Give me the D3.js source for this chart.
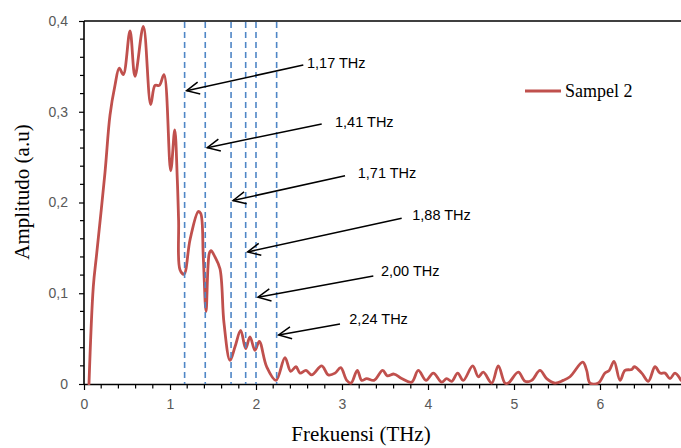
<!DOCTYPE html>
<html>
<head>
<meta charset="utf-8">
<script src="https://cdn.jsdelivr.net/npm/d3@7"></script>
<style>
  html, body { margin: 0; padding: 0; background: #fff; }
  svg { display: block; }
</style>
</head>
<body>
<svg id="chart" width="681" height="448"></svg>
<script>
// Spectrum of "Sampel 2": frequency (THz) and amplitude (a.u)
const freq = [
  0.058, 0.108, 0.148, 0.244, 0.302, 0.360, 0.410, 0.457, 0.535, 0.593,
  0.690, 0.776, 0.826, 0.876, 0.930, 1.008, 1.055, 1.085, 1.100, 1.116,
  1.163, 1.233, 1.329, 1.357, 1.387, 1.419, 1.457, 1.477, 1.523, 1.581,
  1.628, 1.698, 1.756, 1.822, 1.880, 1.930, 1.988, 2.038, 2.124, 2.233,
  2.337, 2.403, 2.465, 2.512, 2.581, 2.648, 2.764, 2.841, 2.919, 2.985,
  3.055, 3.105, 3.178, 3.229, 3.287, 3.372, 3.473, 3.527, 3.605, 3.694,
  3.810, 3.887, 3.977, 4.062, 4.159, 4.217, 4.276, 4.345, 4.410, 4.520,
  4.585, 4.643, 4.741, 4.817, 4.895, 4.934, 5.050, 5.128, 5.206, 5.302,
  5.380, 5.477, 5.573, 5.651, 5.799, 5.845, 5.884, 5.980, 6.058, 6.108,
  6.163, 6.233, 6.291, 6.369, 6.399, 6.485, 6.562, 6.640, 6.698, 6.756,
  6.814, 6.872, 6.942
];
const amplitude = [
  0.000, 0.107, 0.144, 0.233, 0.296, 0.329, 0.348, 0.341, 0.389, 0.339,
  0.394, 0.308, 0.329, 0.329, 0.341, 0.235, 0.280, 0.225, 0.180, 0.126,
  0.121, 0.159, 0.190, 0.188, 0.140, 0.080, 0.144, 0.147, 0.140, 0.127,
  0.067, 0.026, 0.041, 0.059, 0.039, 0.052, 0.037, 0.047, 0.019, 0.004,
  0.029, 0.014, 0.019, 0.012, 0.015, 0.010, 0.020, 0.010, 0.012, 0.018,
  0.004, 0.001, 0.015, 0.004, 0.006, 0.004, 0.015, 0.009, 0.011, 0.006,
  0.002, 0.015, 0.004, 0.012, 0.002, 0.006, 0.003, 0.012, 0.004, 0.020,
  0.008, 0.013, 0.001, 0.020, 0.001, 0.001, 0.013, 0.003, 0.004, 0.015,
  0.006, 0.001, 0.004, 0.008, 0.024, 0.015, 0.001, 0.001, 0.012, 0.015,
  0.025, 0.004, 0.015, 0.016, 0.019, 0.012, 0.003, 0.019, 0.012, 0.012,
  0.006, 0.012, 0.004
];

// Marked resonance frequencies (dashed guides) and their labels
const markerFreq = [1.17, 1.41, 1.71, 1.88, 2.00, 2.24];
const markerLabels = ["1,17 THz", "1,41 THz", "1,71 THz", "1,88 THz", "2,00 THz", "2,24 THz"];
// Arrow geometry in data units: tip amplitude, tail point, label anchor
const arrowTipAmp  = [0.3232, 0.2604, 0.2022, 0.1455, 0.0956, 0.0540];
const arrowTailFreq = [2.550, 2.764, 3.035, 3.694, 3.364, 2.977];
const arrowTailAmp  = [0.3515, 0.2865, 0.2295, 0.1826, 0.1190, 0.0661];
const labelFreq = [2.593, 2.919, 3.183, 3.817, 3.453, 3.085];
const labelAmp  = [0.3540, 0.2890, 0.2325, 0.1865, 0.1240, 0.0715];

const xMajorTicks = [0, 1, 2, 3, 4, 5, 6];
const yMajorTicks = [0, 0.1, 0.2, 0.3, 0.4];
const seriesName = "Sampel 2";

const svg = d3.select("#chart");
const plotLeft = 84, plotRight = 686, plotTop = 21, plotBottom = 384;

const x = d3.scaleLinear().domain([0, 7]).range([plotLeft, plotRight]);
const y = d3.scaleLinear().domain([0, 0.4]).range([plotBottom, plotTop]);
const fmt = v => String(v).replace(".", ",");

// Plot frame: top border line
svg.append("line")
  .attr("x1", plotLeft).attr("x2", 681).attr("y1", plotTop).attr("y2", plotTop)
  .attr("stroke", "#000").attr("stroke-width", 1.5);

// Minor ticks
const xMinor = d3.range(0, 7.0001, 0.2).filter(v => Math.abs(v - Math.round(v)) > 1e-6);
svg.append("g").selectAll("line").data(xMinor).join("line")
  .attr("x1", d => x(d)).attr("x2", d => x(d))
  .attr("y1", plotBottom).attr("y2", plotBottom + 4.5)
  .attr("stroke", "#000").attr("stroke-width", 1.2);
const yMinor = d3.range(0, 0.4001, 0.02).filter(v => Math.abs(v * 10 - Math.round(v * 10)) > 1e-6);
svg.append("g").selectAll("line").data(yMinor).join("line")
  .attr("x1", plotLeft - 4).attr("x2", plotLeft)
  .attr("y1", d => y(d)).attr("y2", d => y(d))
  .attr("stroke", "#000").attr("stroke-width", 1.2);

// Axes
const xAxis = d3.axisBottom(x).tickValues(xMajorTicks).tickFormat(fmt).tickSize(6).tickPadding(9);
const gx = svg.append("g").attr("transform", `translate(0,${plotBottom})`).call(xAxis);
gx.select(".domain").attr("stroke", "#000").attr("stroke-width", 1.6).attr("d", `M${plotLeft},0.5H681`);
gx.selectAll(".tick line").attr("stroke", "#000").attr("stroke-width", 1.2);
gx.selectAll(".tick text").attr("fill", "#595959")
  .style("font-family", "'Liberation Sans', Arial, sans-serif").style("font-size", "14px");

const yAxis = d3.axisLeft(y).tickValues(yMajorTicks).tickFormat(fmt).tickSize(5).tickPadding(11);
const gy = svg.append("g").attr("transform", `translate(${plotLeft},0)`).call(yAxis);
gy.select(".domain").attr("stroke", "#000").attr("stroke-width", 1.6).attr("d", `M0,${plotTop}V${plotBottom + 0.5}`);
gy.selectAll(".tick line").attr("stroke", "#000").attr("stroke-width", 1.2);
gy.selectAll(".tick text").attr("fill", "#595959")
  .style("font-family", "'Liberation Sans', Arial, sans-serif").style("font-size", "14px");

// Axis titles
svg.append("text")
  .attr("transform", `translate(29,192) rotate(-90)`)
  .attr("text-anchor", "middle")
  .style("font-family", "'Liberation Serif', 'Times New Roman', serif").style("font-size", "21px")
  .attr("fill", "#000")
  .text("Amplitudo (a.u)");
svg.append("text")
  .attr("x", 361).attr("y", 441)
  .attr("text-anchor", "middle")
  .style("font-family", "'Liberation Serif', 'Times New Roman', serif").style("font-size", "21px")
  .attr("fill", "#000")
  .text("Frekuensi (THz)");

// Spectrum line
svg.append("clipPath").attr("id", "plotClip")
  .append("rect").attr("x", plotLeft).attr("y", plotTop - 2).attr("width", 681 - plotLeft).attr("height", plotBottom - plotTop + 3);
const points = freq.map((f, i) => [f, amplitude[i]]);
const line = d3.line().x(d => x(d[0])).y(d => y(d[1])).curve(d3.curveCatmullRom.alpha(0.5));
svg.append("path")
  .datum(points)
  .attr("clip-path", "url(#plotClip)")
  .attr("d", line)
  .attr("fill", "none")
  .attr("stroke", "#c0504d")
  .attr("stroke-width", 2.8)
  .attr("stroke-linejoin", "round")
  .attr("stroke-linecap", "round");

// Dashed guides at the marked frequencies
svg.append("g").selectAll("line").data(markerFreq).join("line")
  .attr("x1", d => x(d)).attr("x2", d => x(d))
  .attr("y1", plotTop + 1).attr("y2", plotBottom)
  .attr("stroke", "#4f86c6").attr("stroke-width", 1.6)
  .attr("stroke-dasharray", "6,4");

// Arrows and labels
const arrows = svg.append("g");
markerFreq.forEach((f, i) => {
  const tx = x(f) + 2, ty = y(arrowTipAmp[i]);
  const sx = x(arrowTailFreq[i]), sy = y(arrowTailAmp[i]);
  arrows.append("line")
    .attr("x1", sx).attr("y1", sy).attr("x2", tx).attr("y2", ty)
    .attr("stroke", "#000").attr("stroke-width", 1.5);
  const ang = Math.atan2(sy - ty, sx - tx);
  const len = 14, spread = 0.45;
  const a1 = [tx + len * Math.cos(ang - spread), ty + len * Math.sin(ang - spread)];
  const a2 = [tx + len * Math.cos(ang + spread), ty + len * Math.sin(ang + spread)];
  arrows.append("path")
    .attr("d", `M${a1[0]},${a1[1]}L${tx},${ty}L${a2[0]},${a2[1]}`)
    .attr("fill", "none").attr("stroke", "#000").attr("stroke-width", 1.5);
  arrows.append("text")
    .attr("x", x(labelFreq[i])).attr("y", y(labelAmp[i]))
    .attr("dominant-baseline", "central")
    .style("font-family", "'Liberation Sans', Arial, sans-serif").style("font-size", "14.5px")
    .attr("fill", "#000")
    .text(markerLabels[i]);
});

// Legend
const legend = svg.append("g");
legend.append("line")
  .attr("x1", 525).attr("x2", 561).attr("y1", 91).attr("y2", 91)
  .attr("stroke", "#c0504d").attr("stroke-width", 2.8);
legend.append("text")
  .attr("x", 565).attr("y", 97)
  .style("font-family", "'Liberation Serif', 'Times New Roman', serif").style("font-size", "18px")
  .attr("fill", "#000")
  .text(seriesName);
</script>
</body>
</html>
